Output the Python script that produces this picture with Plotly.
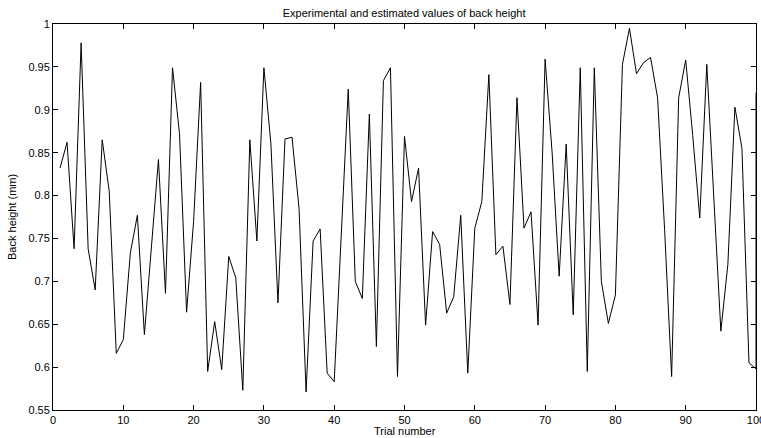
import plotly.graph_objects as go

trial = list(range(1, 101)) + [100]
back_height = [
    0.832, 0.862, 0.738, 0.978, 0.738, 0.690, 0.865, 0.805, 0.616, 0.632,
    0.733, 0.777, 0.638, 0.745, 0.842, 0.686, 0.949, 0.872, 0.664, 0.770,
    0.932, 0.595, 0.653, 0.597, 0.729, 0.704, 0.573, 0.865, 0.747, 0.949,
    0.860, 0.675, 0.866, 0.868, 0.785, 0.571, 0.747, 0.761, 0.593, 0.583,
    0.760, 0.924, 0.700, 0.680, 0.895, 0.624, 0.934, 0.949, 0.589, 0.869,
    0.793, 0.832, 0.649, 0.758, 0.743, 0.663, 0.682, 0.777, 0.593, 0.762,
    0.793, 0.941, 0.731, 0.741, 0.673, 0.914, 0.762, 0.781, 0.649, 0.959,
    0.850, 0.706, 0.860, 0.661, 0.949, 0.595, 0.949, 0.700, 0.651, 0.684,
    0.953, 0.995, 0.942, 0.955, 0.961, 0.914, 0.760, 0.589, 0.914, 0.958,
    0.870, 0.774, 0.953, 0.800, 0.642, 0.720, 0.903, 0.855, 0.605, 0.598,
    0.920,
]

x_ticks = list(range(0, 101, 10))
y_ticks = [0.55, 0.6, 0.65, 0.7, 0.75, 0.8, 0.85, 0.9, 0.95, 1.0]
y_tick_text = ["0.55", "0.6", "0.65", "0.7", "0.75", "0.8", "0.85", "0.9", "0.95", "1"]

fig = go.Figure()
fig.add_trace(go.Scatter(
    x=trial, y=back_height, mode="lines",
    line=dict(color="black", width=1), showlegend=False, hoverinfo="skip",
))

font = "Liberation Sans, Arial, sans-serif"
fig.update_layout(
    width=761, height=438,
    margin=dict(l=53, r=5, t=24, b=28, autoexpand=False),
    paper_bgcolor="white", plot_bgcolor="white",
    title=dict(text="Experimental and estimated values of back height",
               x=0.531, xanchor="center", y=0.978, yanchor="top",
               font=dict(family=font, size=11, color="black")),
    font=dict(family=font, size=11, color="black"),
    annotations=[
        dict(text="Trial number", xref="paper", yref="paper", x=0.5, y=0,
             yshift=-29, xanchor="center", yanchor="bottom", showarrow=False,
             font=dict(family=font, size=11, color="black")),
        dict(text="Back height (mm)", xref="paper", yref="paper", x=0, y=0.5,
             xshift=-33, xanchor="right", yanchor="middle", textangle=-90,
             showarrow=False, font=dict(family=font, size=11, color="black")),
    ],
)
fig.update_xaxes(
    range=[0, 100], tickvals=x_ticks, ticks="inside", ticklen=5,
    tickcolor="black", showline=True, linecolor="black", linewidth=1,
    mirror="ticks", showgrid=False, zeroline=False, automargin=False,
    tickfont=dict(size=11), ticklabeloverflow="allow",
)
fig.update_yaxes(
    range=[0.55, 1.0], tickvals=y_ticks, ticktext=y_tick_text,
    ticks="inside", ticklen=5, tickcolor="black", showline=True,
    linecolor="black", linewidth=1, mirror="ticks", showgrid=False,
    zeroline=False, automargin=False, tickfont=dict(size=11),
    ticklabeloverflow="allow",
)

fig.write_html(
    "out.html",
    config={"displayModeBar": False},
    post_script="document.body.style.margin='0';document.body.style.overflow='hidden';",
)
